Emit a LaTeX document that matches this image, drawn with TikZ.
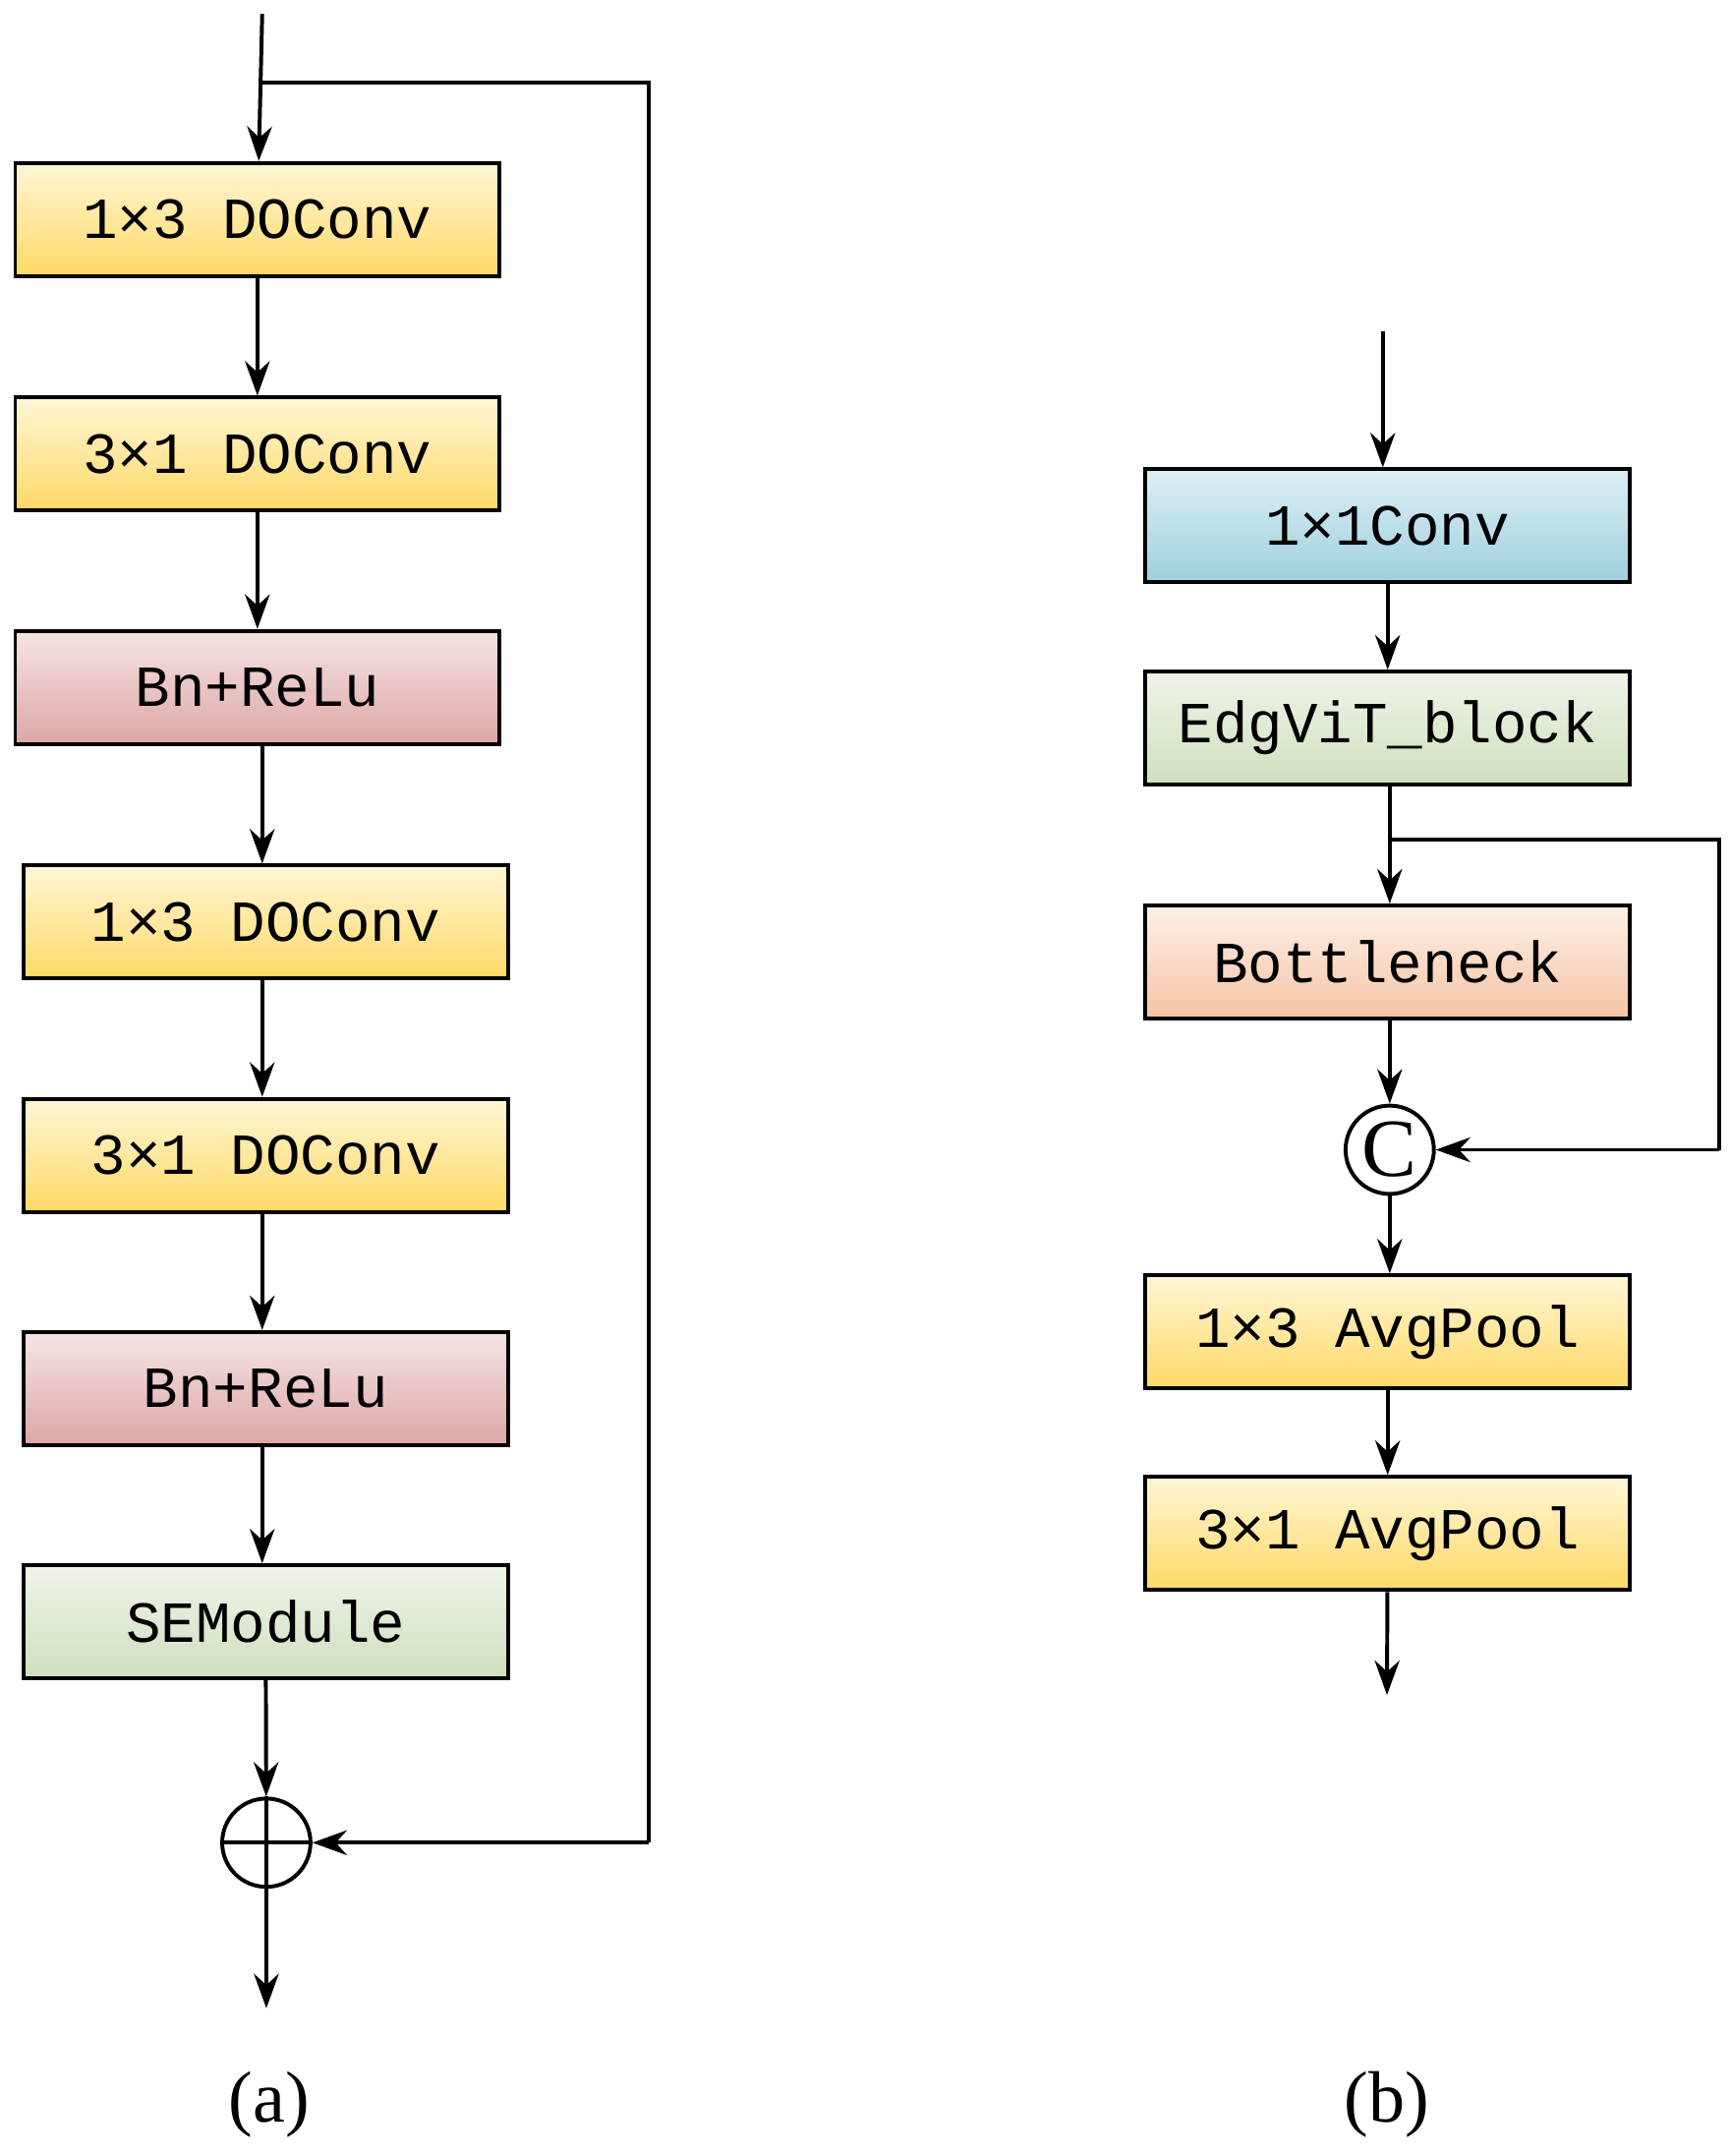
\documentclass[tikz,border=0pt]{standalone}
\usepackage{fontspec}
\setmainfont{Liberation Serif}
\newfontfamily\boxfont{Liberation Mono}
\usetikzlibrary{arrows.meta}
\definecolor{ylwtop}{HTML}{FFF6D6}
\definecolor{ylwbot}{HTML}{FFD966}
\definecolor{redtop}{HTML}{F6E4E4}
\definecolor{redbot}{HTML}{DDA6A6}
\definecolor{grntop}{HTML}{EFF4E8}
\definecolor{grnbot}{HTML}{CFDFBE}
\definecolor{blutop}{HTML}{DDF0F4}
\definecolor{blubot}{HTML}{9ECFDF}
\definecolor{pchtop}{HTML}{FDF0E8}
\definecolor{pchbot}{HTML}{F6C4A4}
\tikzset{
  blk/.style={draw, line width=1.6pt, minimum width=7.02cm, minimum height=1.64cm,
    font=\boxfont\fontsize{24}{28}\selectfont, inner sep=0pt},
  yblk/.style={blk, top color=ylwtop, bottom color=ylwbot},
  rblk/.style={blk, top color=redtop, bottom color=redbot},
  gblk/.style={blk, top color=grntop, bottom color=grnbot},
  bblk/.style={blk, top color=blutop, bottom color=blubot},
  pblk/.style={blk, top color=pchtop, bottom color=pchbot},
  op/.style={draw, circle, line width=1.6pt, minimum size=1.28cm, inner sep=0pt},
  arr/.style={line width=1.6pt, -{Stealth[length=0.5cm,width=0.36cm]}},
  sublabel/.style={font=\fontsize{30}{34}\selectfont}
}
\begin{document}
\begin{tikzpicture}[x=0.02cm,y=-0.02cm]
\useasboundingbox (0,0) rectangle (1254,1562);
% (a)
\coordinate (ain) at (190,10);
\coordinate (askip) at (190,60);
\node[yblk] (a1) at (186.5,159) {1×3 DOConv};
\node[yblk] (a2) at (186.5,329) {3×1 DOConv};
\node[rblk] (a3) at (186.5,498) {Bn+ReLu};
\node[yblk] (a4) at (192.5,668) {1×3 DOConv};
\node[yblk] (a5) at (192.5,837) {3×1 DOConv};
\node[rblk] (a6) at (192.5,1006) {Bn+ReLu};
\node[gblk] (a7) at (192.5,1175) {SEModule};
\node[op] (add) at (193,1335) {};
\draw[line width=1.6pt] (add.north) -- (add.south) (add.west) -- (add.east);
\coordinate (aout) at (193,1455);
\draw[arr] (ain) -- (a1);
\draw[line width=1.6pt] (askip) -- (470,60) -- (470,1335);
\draw[arr] (470,1335) -- (add.east);
\draw[arr] (a1) -- (a2);
\draw[arr] (a2) -- (a3);
\draw[arr] (a3.south -| 190,0) -- (a4.north -| 190,0);
\draw[arr] (a4.south -| 190,0) -- (a5.north -| 190,0);
\draw[arr] (a5.south -| 190,0) -- (a6.north -| 190,0);
\draw[arr] (a6.south -| 190,0) -- (a7.north -| 190,0);
\draw[arr] (a7) -- (add);
\draw[arr] (add) -- (aout);
\node[sublabel] (capa) at (195,1525) {(a)};
% (b)
\coordinate (bin) at (1002,240);
\node[bblk] (b1) at (1005.5,381) {1×1Conv};
\node[gblk] (b2) at (1005.5,527.5) {EdgViT\_block};
\node[pblk] (b3) at (1005.5,697) {Bottleneck};
\node[op, font=\fontsize{34}{34}\selectfont] (cat) at (1007,833) {C};
\node[yblk] (b4) at (1005.5,965) {1×3 AvgPool};
\node[yblk] (b5) at (1005.5,1111) {3×1 AvgPool};
\coordinate (bout) at (1005,1228);
\draw[arr] (bin) -- (bin |- b1.north);
\draw[arr] (b1) -- (b2);
\draw[arr] (b2.south -| cat) -- (b3.north -| cat);
\draw[line width=1.6pt] (1007,608) -- (1246,608) -- (1246,833);
\draw[arr] (1246,833) -- (cat.east);
\draw[arr] (b3.south -| cat) -- (cat);
\draw[arr] (cat) -- (b4.north -| cat);
\draw[arr] (b4) -- (b5);
\draw[arr] (b5) -- (bout);
\node[sublabel] (capb) at (1005,1525) {(b)};
\end{tikzpicture}
\end{document}
